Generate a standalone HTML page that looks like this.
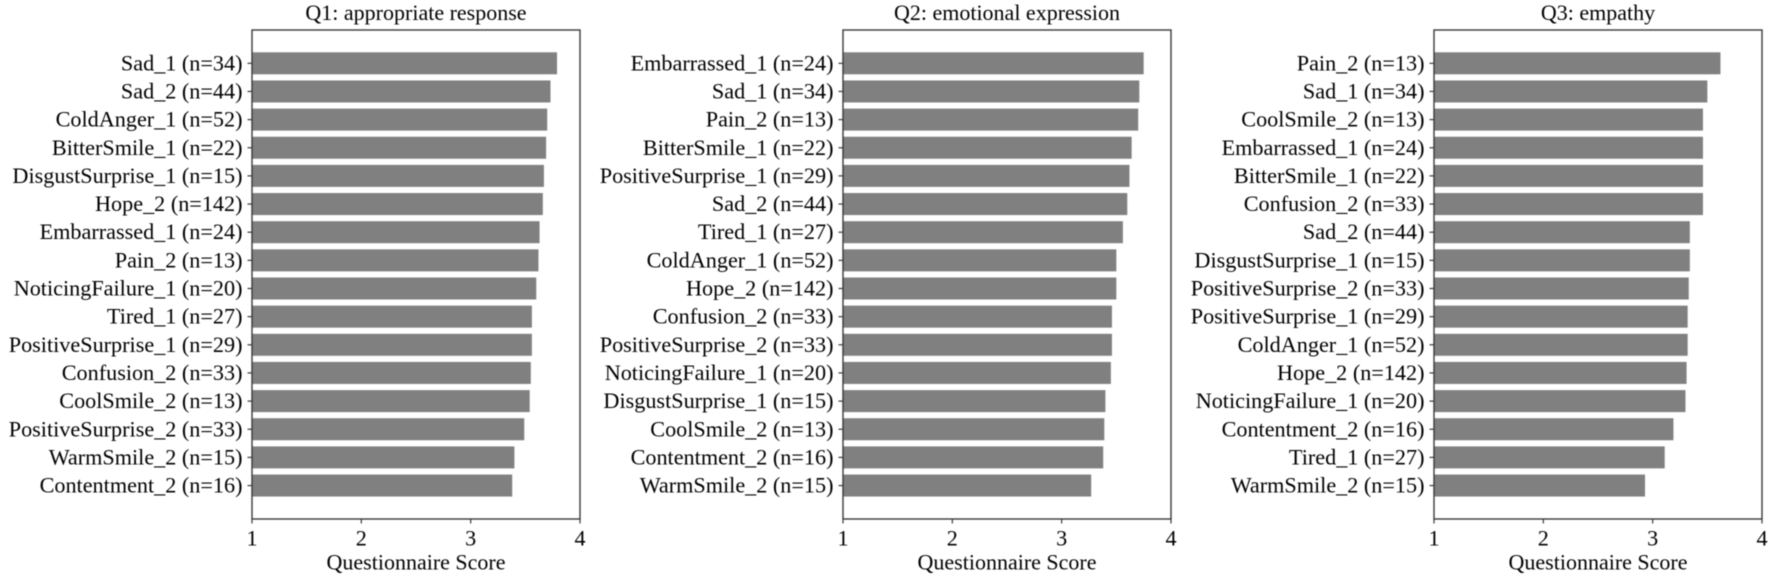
<!DOCTYPE html>
<html lang="en">
<head>
<meta charset="utf-8">
<title>Questionnaire Scores</title>
<style>
html,body{margin:0;padding:0;background:#fff;width:1772px;height:578px;overflow:hidden}
svg{display:block;font-family:"Liberation Serif",serif;fill:#000;filter:blur(0.4px)}
</style>
</head>
<body>
<svg id="chart" xmlns="http://www.w3.org/2000/svg" width="1772" height="578" viewBox="0 0 1772 578"></svg>
<script>
const q1Title = "Q1: appropriate response";
const q1Categories = ["Sad_1 (n=34)","Sad_2 (n=44)","ColdAnger_1 (n=52)","BitterSmile_1 (n=22)","DisgustSurprise_1 (n=15)","Hope_2 (n=142)","Embarrassed_1 (n=24)","Pain_2 (n=13)","NoticingFailure_1 (n=20)","Tired_1 (n=27)","PositiveSurprise_1 (n=29)","Confusion_2 (n=33)","CoolSmile_2 (n=13)","PositiveSurprise_2 (n=33)","WarmSmile_2 (n=15)","Contentment_2 (n=16)"];
const q1Values = [3.79,3.73,3.70,3.69,3.67,3.66,3.63,3.62,3.60,3.56,3.56,3.55,3.54,3.49,3.40,3.38];

const q2Title = "Q2: emotional expression";
const q2Categories = ["Embarrassed_1 (n=24)","Sad_1 (n=34)","Pain_2 (n=13)","BitterSmile_1 (n=22)","PositiveSurprise_1 (n=29)","Sad_2 (n=44)","Tired_1 (n=27)","ColdAnger_1 (n=52)","Hope_2 (n=142)","Confusion_2 (n=33)","PositiveSurprise_2 (n=33)","NoticingFailure_1 (n=20)","DisgustSurprise_1 (n=15)","CoolSmile_2 (n=13)","Contentment_2 (n=16)","WarmSmile_2 (n=15)"];
const q2Values = [3.75,3.71,3.70,3.64,3.62,3.60,3.56,3.50,3.50,3.46,3.46,3.45,3.40,3.39,3.38,3.27];

const q3Title = "Q3: empathy";
const q3Categories = ["Pain_2 (n=13)","Sad_1 (n=34)","CoolSmile_2 (n=13)","Embarrassed_1 (n=24)","BitterSmile_1 (n=22)","Confusion_2 (n=33)","Sad_2 (n=44)","DisgustSurprise_1 (n=15)","PositiveSurprise_2 (n=33)","PositiveSurprise_1 (n=29)","ColdAnger_1 (n=52)","Hope_2 (n=142)","NoticingFailure_1 (n=20)","Contentment_2 (n=16)","Tired_1 (n=27)","WarmSmile_2 (n=15)"];
const q3Values = [3.62,3.50,3.46,3.46,3.46,3.46,3.34,3.34,3.33,3.32,3.32,3.31,3.30,3.19,3.11,2.93];

const xTicks = [1,2,3,4];
const xAxisLabel = "Questionnaire Score";

const svg = document.getElementById('chart');
const NS = 'http://www.w3.org/2000/svg';
const AX_TOP = 30, AX_BOTTOM = 519, AX_WIDTH = 328, PITCH = 28.15, FIRST_CENTER = 63.3, BAR_H = 22;
const AX_STROKE = '#3a3a3a';
const FONT = 22.2;
const TITLE_FONT = 22;

function make(tag, attrs, parent) {
  const el = document.createElementNS(NS, tag);
  for (const k in attrs) el.setAttribute(k, attrs[k]);
  parent.appendChild(el);
  return el;
}

function drawPanel(key, left, title, categories, values) {
  const xScale = v => left + (v - 1) / 3 * AX_WIDTH;
  const yScale = i => FIRST_CENTER + i * PITCH;

  const g = make('g', {}, svg);
  
  

  const t = make('text', {x: left + AX_WIDTH / 2, y: 20, 'text-anchor': 'middle', 'font-size': TITLE_FONT}, g);
  t.textContent = title;
  
  

  categories.forEach((cat, i) => {
    const bar = make('rect', {x: xScale(1), y: yScale(i) - BAR_H / 2, width: xScale(values[i]) - xScale(1), height: BAR_H, fill: '#808080'}, g);
    
    

    const tick = make('line', {x1: left - 4.5, x2: left, y1: yScale(i), y2: yScale(i), stroke: AX_STROKE, 'stroke-width': 1.2}, g);
    
    

    const lab = make('text', {x: left - 9.5, y: yScale(i) + 7, 'text-anchor': 'end', 'font-size': FONT}, g);
    lab.textContent = cat;
    
    
  });

  const frame = make('rect', {x: left, y: AX_TOP, width: AX_WIDTH, height: AX_BOTTOM - AX_TOP, fill: 'none', stroke: AX_STROKE, 'stroke-width': 1.4}, g);
  
  

  xTicks.forEach(v => {
    const tick = make('line', {x1: xScale(v), x2: xScale(v), y1: AX_BOTTOM, y2: AX_BOTTOM + 4.5, stroke: AX_STROKE, 'stroke-width': 1.2}, g);
    
    

    const lab = make('text', {x: xScale(v), y: 545.5, 'text-anchor': 'middle', 'font-size': FONT}, g);
    lab.textContent = v;
    
    
  });

  const xt = make('text', {x: left + AX_WIDTH / 2, y: 569.5, 'text-anchor': 'middle', 'font-size': TITLE_FONT}, g);
  xt.textContent = xAxisLabel;
  
  
}

drawPanel('q1', 252, q1Title, q1Categories, q1Values);
drawPanel('q2', 843, q2Title, q2Categories, q2Values);
drawPanel('q3', 1434, q3Title, q3Categories, q3Values);
</script>
</body>
</html>
